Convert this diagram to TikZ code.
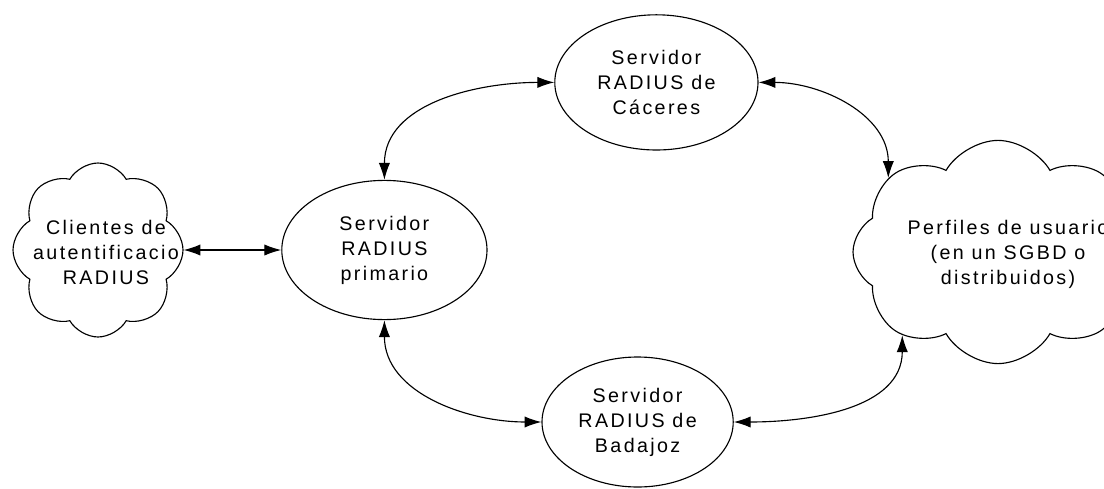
\documentclass[tikz,border=0pt]{standalone}
\usepackage{fontspec}
\setmainfont{Liberation Sans}[LetterSpace=12]
\usetikzlibrary{shapes.geometric,shapes.symbols,arrows.meta}

\begin{document}
\begin{tikzpicture}[font=\fontsize{14}{17.8}\selectfont,
  server/.style={ellipse,draw,line width=0.8pt,align=center,inner sep=0pt},
  puffy/.style={cloud,draw,line width=0.8pt,cloud puffs=8,cloud puff arc=120,
    cloud ignores aspect,inner sep=0pt},
  txt/.style={align=center,inner sep=0pt},
  link/.style={{Latex[length=12pt,width=8pt]}-{Latex[length=12pt,width=8pt]},line width=0.8pt}]
  \useasboundingbox (0,0) rectangle (27.6,12.2);

  % The RADIUS servers
  \node[server,minimum width=5.13cm,minimum height=3.48cm] (pri) at (9.61,5.95) {Servidor\\RADIUS\\primario};
  \node[server,minimum width=5.08cm,minimum height=3.38cm] (cac) at (16.41,10.14) {Servidor\\RADIUS de\\Cáceres};
  \node[server,minimum width=4.78cm,minimum height=3.25cm] (bad) at (15.94,1.65) {Servidor\\RADIUS de\\Badajoz};

  % Clouds on both sides, their text laid over them
  \node[puffy,minimum width=4.25cm,minimum height=4.35cm] (cli) at (2.45,5.95) {};
  \node[txt] (cliTxt) at (2.65,5.9) {Clientes de\\autentificacio\\RADIUS};
  \node[puffy,minimum width=7.25cm,minimum height=5.58cm] (usr) at (24.95,5.9) {};
  \node[txt] (usrTxt) at (25.2,5.85) {Perfiles de usuario\\(en un SGBD o\\distribuidos)};

  % Links between them
  \draw[link] (cli) -- (pri);
  \draw[link] (pri.north) to[out=90,in=180] (cac.west);
  \draw[link] (cac.east) to[out=0,in=90] (usr.146);
  \draw[link] (pri.south) to[out=-90,in=180] (bad.west);
  \draw[link] (bad.east) to[out=0,in=-90] (usr.221);
\end{tikzpicture}
\end{document}
